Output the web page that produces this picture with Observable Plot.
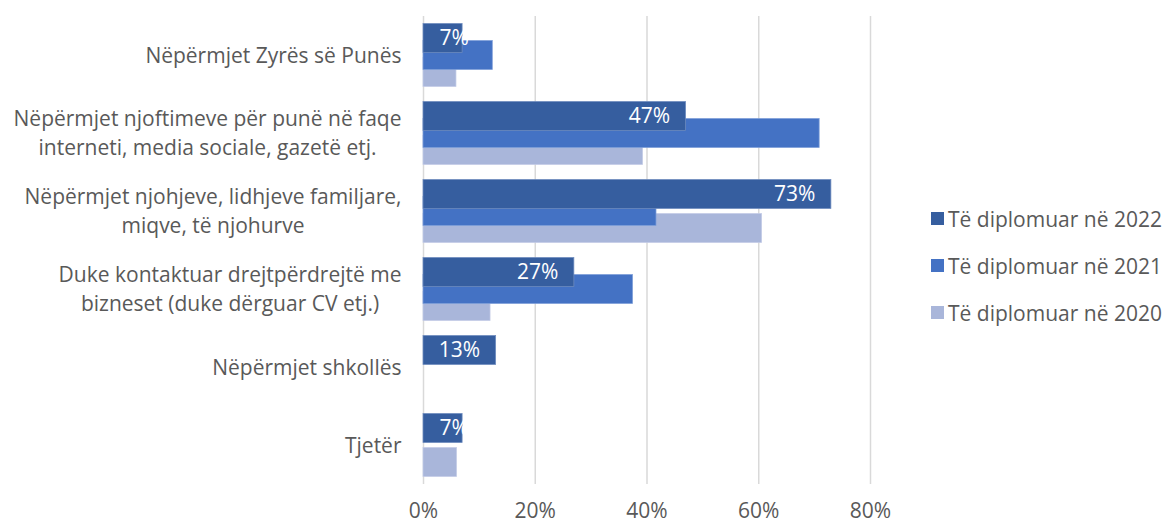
<!DOCTYPE html>
<html>
<head>
<meta charset="utf-8">
<script src="https://cdn.jsdelivr.net/npm/d3@7"></script>
<script src="https://cdn.jsdelivr.net/npm/@observablehq/plot@0.6"></script>
<style>
  html, body { margin: 0; padding: 0; background: #fff; }
  #wrap { position: relative; width: 1166px; height: 525px; font-family: "Open Sans", sans-serif; }
  #legend { position: absolute; left: 931px; top: 195px; color: #595959; font-size: 21px; white-space: nowrap; }
  #legend .row { display: flex; align-items: center; height: 47px; }
  #legend .sw { width: 13px; height: 13px; margin-right: 4px; }
</style>
</head>
<body>
<div id="wrap"><div id="legend"></div></div>
<script>
const categories = [
  "Nëpërmjet Zyrës së Punës",
  "Nëpërmjet njoftimeve për punë në faqe\ninterneti, media sociale, gazetë etj.",
  "Nëpërmjet njohjeve, lidhjeve familjare,\nmiqve, të njohurve",
  "Duke kontaktuar drejtpërdrejtë me\nbizneset (duke dërguar CV etj.)",
  "Nëpërmjet shkollës",
  "Tjetër"
];
const seriesNames = ["Të diplomuar në 2022", "Të diplomuar në 2021", "Të diplomuar në 2020"];
const values2022 = [0.07, 0.47, 0.73, 0.27, 0.13, 0.07];
const values2021 = [0.124, 0.709, 0.417, 0.375, null, null];
const values2020 = [0.059, 0.393, 0.606, 0.120, null, 0.060];
const xTicks = [0, 0.2, 0.4, 0.6, 0.8];
const colors = ["#365E9F", "#4472C4", "#A9B6DA"];

const FONT = "'Open Sans', sans-serif";
const FS = 21;
const textColor = "#595959";

const rows = (vals) => categories.map((c, i) => ({cat: c, v: vals[i]})).filter(d => d.v != null);
const d22 = rows(values2022), d21 = rows(values2021), d20 = rows(values2020);

const ctx = document.createElement("canvas").getContext("2d");
ctx.font = `${FS}px ${FONT}`;
const blockWidth = (s) => Math.max(...s.split("\n").map(l => ctx.measureText(l).width));

const barH = 29, step = 17, bandH = 78;
const inset = (bandH - barH) / 2;
const small = (v) => v < 0.1;

const labelMarks = categories.map(c => Plot.text([c], {
  x: 0, y: d => d, text: d => d, textAnchor: "middle", lineAnchor: "middle",
  lineHeight: 1.36, dx: -22 - blockWidth(c) / 2, dy: -2, fill: textColor, fontSize: FS
}));

const chart = Plot.plot({
  width: 1166,
  height: 525,
  marginLeft: 423,
  marginRight: 296,
  marginTop: 16,
  marginBottom: 41,
  style: {fontFamily: FONT, fontSize: FS + "px", color: textColor, background: "transparent", overflow: "visible"},
  x: {domain: [0, 0.8]},
  y: {domain: categories, padding: 0, axis: null},
  marks: [
    Plot.gridX(xTicks, {stroke: "#d9d9d9", strokeOpacity: 1, strokeWidth: 1.5}),
    Plot.barX(d20, {x: "v", y: "cat", fill: colors[2], insetTop: inset, insetBottom: inset, dy: step, stroke: "#c3cce6", strokeWidth: 0.75}),
    Plot.barX(d21, {x: "v", y: "cat", fill: colors[1], insetTop: inset, insetBottom: inset, dy: 0, stroke: "#7f9fd9", strokeWidth: 0.75}),
    Plot.barX(d22, {x: "v", y: "cat", fill: colors[0], insetTop: inset, insetBottom: inset, dy: -step, stroke: "#6f8cbf", strokeWidth: 0.75}),
    Plot.text(d22.filter(d => !small(d.v)), {x: "v", y: "cat", text: d => Math.round(d.v * 100) + "%", textAnchor: "end", dx: -16, dy: -step, fill: "white", fontSize: FS}),
    Plot.text(d22.filter(d => small(d.v)), {x: 0, y: "cat", text: d => Math.round(d.v * 100) + "%", textAnchor: "start", dx: 16, dy: -step, fill: "white", fontSize: FS}),
    Plot.axisX(xTicks, {tickSize: 0, tickPadding: 19, tickFormat: d => Math.round(d * 100) + "%", fill: textColor, fontSize: FS, label: null}),
    ...labelMarks
  ]
});
document.getElementById("wrap").prepend(chart);

const legend = document.getElementById("legend");
seriesNames.forEach((n, i) => {
  const r = document.createElement("div");
  r.className = "row";
  r.innerHTML = `<span class="sw" style="background:${colors[i]}"></span><span>${n}</span>`;
  legend.appendChild(r);
});
</script>
</body>
</html>
